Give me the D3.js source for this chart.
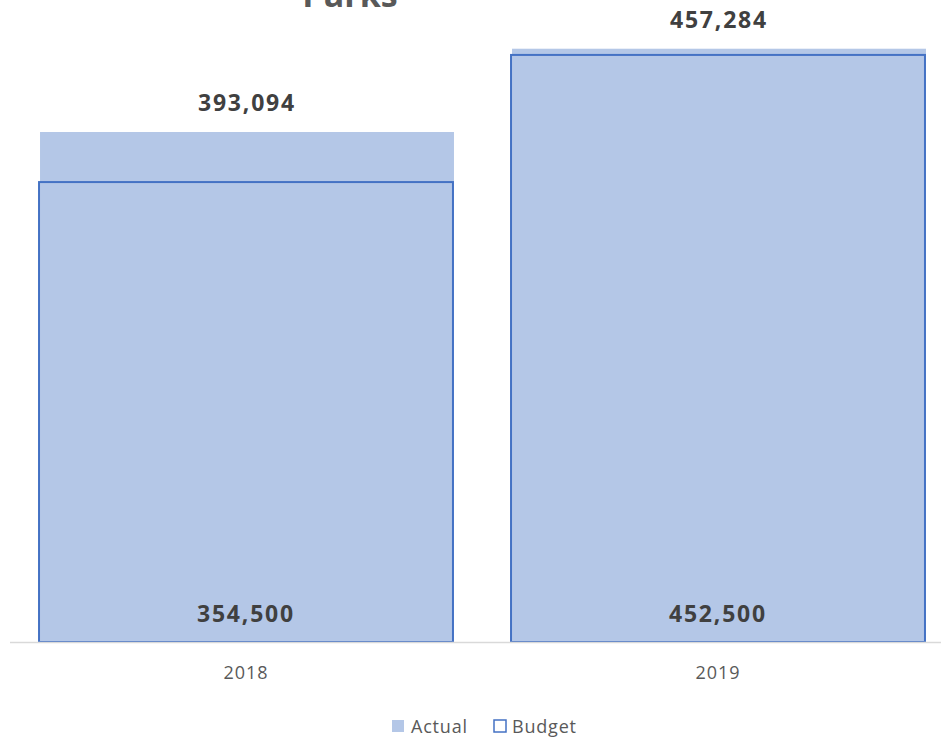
<!DOCTYPE html>
<html><head><meta charset="utf-8">
<script src="https://cdn.jsdelivr.net/npm/d3@7"></script>
<style>body{margin:0;background:#fff;} svg{display:block;}</style>
</head><body>
<svg id="c" width="941" height="738"></svg>
<script>
const categories = ["2018", "2019"];
const actual = [393094, 457284];
const budget = [354500, 452500];
const seriesNames = ["Actual", "Budget"];
const title = "Parks";

const svg = d3.select("#c");
const W = 941, H = 738;
const baseY = 642;
const x = d3.scaleBand().domain(categories).range([10, 954]).paddingInner(0.123).paddingOuter(0.0615);
const y = d3.scaleLinear().domain([0, 500000]).range([baseY, baseY - 648.7]);
const fmt = d3.format(",");
const labelFont = "'Open Sans', sans-serif";

// title (cut off at top, as in the reference)
svg.append("text").attr("x", 350).attr("y", 7).attr("text-anchor", "middle")
  .attr("font-family", labelFont).attr("font-weight", "bold").attr("font-size", 34)
  .attr("fill", "#595959").text(title);

// actual bars
svg.selectAll("rect.act").data(categories).join("rect").attr("class", "act")
  .attr("x", d => x(d) + 1).attr("width", x.bandwidth())
  .attr("y", (d, i) => y(actual[i])).attr("height", (d, i) => baseY - y(actual[i]))
  .attr("fill", "#b4c7e7");

// budget bars (outline)
svg.selectAll("rect.bud").data(categories).join("rect").attr("class", "bud")
  .attr("x", d => x(d)).attr("width", x.bandwidth())
  .attr("y", (d, i) => y(budget[i])).attr("height", (d, i) => baseY - y(budget[i]))
  .attr("fill", "none").attr("stroke", "#4472c4").attr("stroke-width", 2);

// axis line
svg.append("line").attr("x1", 10).attr("x2", W).attr("y1", baseY + 0.5).attr("y2", baseY + 0.5)
  .attr("stroke", "#d9d9d9").attr("stroke-width", 1.5);

// actual labels
svg.selectAll("text.al").data(categories).join("text").attr("class", "al")
  .attr("x", d => x(d) + x.bandwidth() / 2 + 1).attr("y", (d, i) => y(actual[i]) - 21)
  .attr("text-anchor", "middle").attr("font-family", labelFont).attr("font-weight", "bold")
  .attr("font-size", 23).attr("letter-spacing", 1.8).attr("fill", "#404040").text((d, i) => fmt(actual[i]));

// budget labels at base
svg.selectAll("text.bl").data(categories).join("text").attr("class", "bl")
  .attr("x", d => x(d) + x.bandwidth() / 2).attr("y", baseY - 20)
  .attr("text-anchor", "middle").attr("font-family", labelFont).attr("font-weight", "bold")
  .attr("font-size", 23).attr("letter-spacing", 1.8).attr("fill", "#404040").text((d, i) => fmt(budget[i]));

// category axis labels
svg.selectAll("text.cat").data(categories).join("text").attr("class", "cat")
  .attr("x", d => x(d) + x.bandwidth() / 2).attr("y", 679)
  .attr("text-anchor", "middle").attr("font-family", labelFont)
  .attr("font-size", 18).attr("letter-spacing", 1).attr("fill", "#595959").text(d => d);

// legend
const lg = svg.append("g").attr("font-family", labelFont).attr("font-size", 18)
  .attr("letter-spacing", 0.8).attr("fill", "#595959");
lg.append("rect").attr("x", 392).attr("y", 720).attr("width", 12).attr("height", 12).attr("fill", "#b4c7e7");
lg.append("text").attr("x", 411).attr("y", 733).text(seriesNames[0]);
lg.append("rect").attr("x", 494).attr("y", 720).attr("width", 12).attr("height", 12)
  .attr("fill", "none").attr("stroke", "#4472c4").attr("stroke-width", 1.5);
lg.append("text").attr("x", 512).attr("y", 733).text(seriesNames[1]);
</script>
</body></html>
